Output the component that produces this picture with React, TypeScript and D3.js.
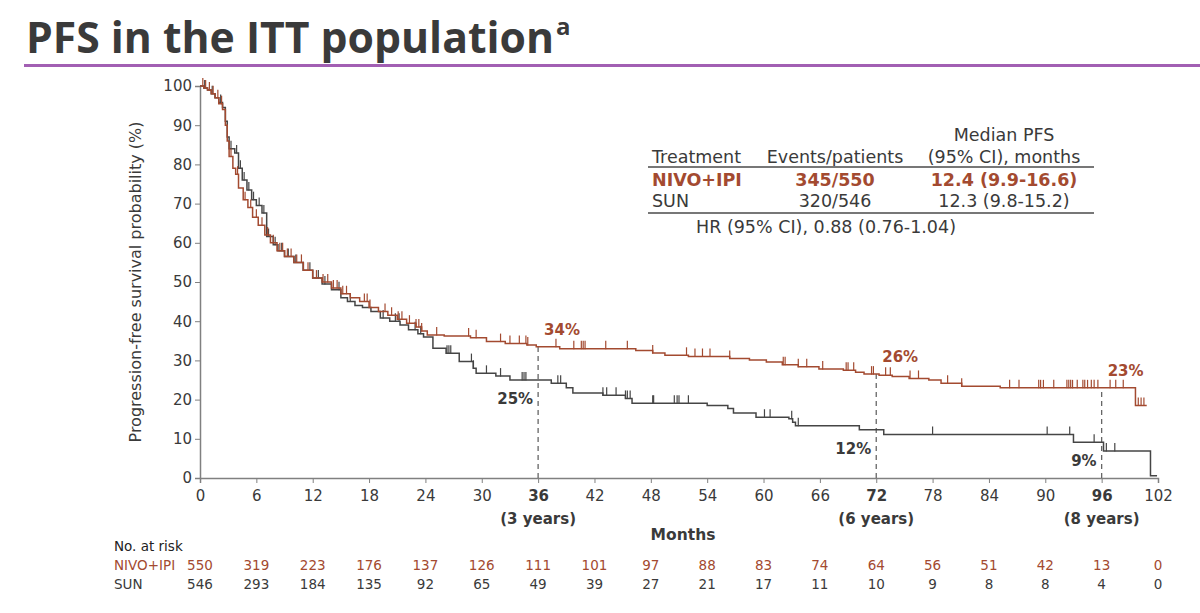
import { useEffect, useRef } from "react";
import * as d3 from "d3";

// Kaplan-Meier steps: [month, % progression-free]
const nivoSteps: [number, number][] = [
  [0, 100], [0.4, 99.5], [0.8, 99], [1.2, 98], [1.6, 97], [2.0, 95.5], [2.4, 94],
  [2.7, 90], [2.9, 86], [3.1, 82], [3.5, 79], [3.8, 77.5], [4.1, 74], [4.6, 71],
  [5.1, 69], [5.6, 66.5], [6.2, 64.5], [6.9, 62], [7.5, 60], [8.2, 58], [9, 56.5],
  [10, 55], [11, 53], [12, 51], [13, 50], [14, 48.5], [15, 47], [16, 46], [17, 45],
  [18, 43.5], [19, 42.5], [20, 41.5], [21, 40.5], [22, 39.5], [23, 38.5], [23.6, 37.5],
  [24.2, 36.5], [26, 36.2], [28.8, 35.8], [30.5, 34.8], [32.5, 34.3], [34.8, 33.9],
  [35.8, 33.5], [38.3, 33], [46.4, 32.5], [48.2, 31.9], [49.5, 31.3], [52, 31],
  [56.4, 30.5], [58.5, 30.1], [60.3, 29.6], [62, 28.9], [63.7, 28.4], [65.9, 27.8],
  [68.5, 27.5], [69.8, 27], [70.7, 26.5], [72.3, 26.2], [73.7, 25.9], [75.5, 25.4],
  [77.6, 25], [78.9, 24.2], [81.1, 23.4], [85.2, 23], [99.6, 18.5], [100.8, 18.5],
];

const sunSteps: [number, number][] = [
  [0, 100], [0.4, 99.5], [0.8, 99], [1.2, 98], [1.6, 97], [2.0, 95.8], [2.4, 94.5],
  [2.7, 91], [2.9, 87], [3.1, 84], [3.7, 82.9], [4.1, 79], [4.5, 76], [5.0, 73.5],
  [5.5, 71], [6.0, 69.5], [6.6, 67.6], [7.1, 61.6], [7.8, 59.5], [8.3, 58], [9, 56.5],
  [10, 55], [11, 53], [12, 51], [13, 49.5], [14, 48], [15, 46], [15.7, 45], [16.5, 44],
  [17.3, 43.5], [18.2, 42.5], [19.2, 40.8], [20.2, 40], [21.3, 39], [22.2, 37.8],
  [23.2, 36.8], [23.8, 36], [24.8, 33.1], [26.2, 31.8], [27.6, 29.7], [29.1, 28],
  [29.4, 26.7], [31.5, 26], [33, 25], [37.4, 24.2], [39.0, 23], [39.7, 21.7],
  [42.9, 21.1], [45.3, 20.3], [46, 19.1], [54, 18.5], [56.2, 17.7], [56.8, 16.6],
  [59.2, 15.5], [62.7, 15.1], [63.1, 14.2], [63.4, 13.3], [70.2, 12.3], [72.8, 11.1],
  [93, 9.1], [96.2, 6.9], [101.2, 0.6], [101.9, 0.6],
];

// censor marks (months)
const nivoCensor = [
  0.3, 0.6, 1.0, 1.4, 1.9, 2.3, 3.3, 4.0, 4.8, 5.4, 6.0, 6.6, 7.2, 7.8, 8.5, 8.8, 9.3,
  9.7, 10.3, 10.8, 11.5, 12.4, 13.1, 13.6, 14.2, 14.6, 15.2, 15.6, 17.5, 17.8, 18.1,
  19.7, 20.4, 21.1, 21.5, 22.3, 23.0, 23.3, 23.6, 25.2, 28.6, 29.4, 32.0, 33.0, 34.0,
  34.7, 34.9, 37.9, 39.8, 40.6, 40.8, 41.0, 43.2, 45.5, 48.2, 51.8, 52.7, 53.5, 54.3,
  56.4, 62.1, 62.3, 63.7, 64.6, 66.3, 68.8, 69.0, 69.6, 71.5, 71.7, 73.0, 73.5, 75.6,
  76.5, 79.6, 81.1, 86.2, 87.2, 89.3, 89.5, 89.8, 90.9, 92.3, 92.5, 92.7, 92.9, 93.4,
  94.0, 94.2, 94.5, 94.9, 95.2, 95.6, 96.9, 97.5, 98.3, 99.9, 100.2, 100.5,
];
const sunCensor = [
  0.5, 1.3, 2.2, 3.3, 3.9, 4.3, 4.7, 5.2, 5.7, 6.3, 6.8, 7.3, 8.0, 8.7, 9.4, 10.2,
  11.0, 11.7, 12.6, 13.3, 14.8, 16.0, 19.5, 20.8, 21.2, 22.9, 23.5, 26.3, 26.5, 26.7,
  28.9, 29.1, 30.5, 32.0, 34.3, 34.5, 34.7, 38.1, 38.4, 42.9, 43.3, 44.3, 45.3, 45.5,
  45.8, 48.2, 48.3, 50.5, 50.8, 51.0, 52.0, 60.1, 60.7, 63.0, 63.7, 78.0, 90.2, 92.6,
  95.2, 96.5, 97.4,
];

const landmarks = [
  { month: 36, nivo: "34%", sun: "25%", years: "(3 years)" },
  { month: 72, nivo: "26%", sun: "12%", years: "(6 years)" },
  { month: 96, nivo: "23%", sun: "9%", years: "(8 years)" },
];

const riskMonths = [0, 6, 12, 18, 24, 30, 36, 42, 48, 54, 60, 66, 72, 78, 84, 90, 96, 102];
const nivoRisk = [550, 319, 223, 176, 137, 126, 111, 101, 97, 88, 83, 74, 64, 56, 51, 42, 13, 0];
const sunRisk = [546, 293, 184, 135, 92, 65, 49, 39, 27, 21, 17, 11, 10, 9, 8, 8, 4, 0];

const RED = "#a34a30";
const GREY = "#454545";
const TEXT = "#3a3a3a";
const FONT = "'DejaVu Sans', sans-serif";

function valueAt(steps: [number, number][], m: number) {
  let v = steps[0][1];
  for (const [t, p] of steps) {
    if (t <= m) v = p;
    else break;
  }
  return v;
}

export default function App() {
  const svgRef = useRef<SVGSVGElement>(null);

  useEffect(() => {
    if (!svgRef.current) return;
    const svg = d3.select(svgRef.current);
    svg.selectAll("*").remove();

    const W = 1200;
    const H = 613;
    svg.attr("width", W).attr("height", H);

    // title
    svg
      .append("text")
      .attr("x", 26)
      .attr("y", 53)
      .attr("font-family", "'Open Sans', sans-serif")
      .attr("font-weight", 700)
      .attr("font-size", 43)
      .attr("fill", TEXT)
      .attr("textLength", 528)
      .attr("lengthAdjust", "spacingAndGlyphs")
      .text("PFS in the ITT population");
    svg
      .append("text")
      .attr("x", 556)
      .attr("y", 35)
      .attr("font-family", "'Open Sans', sans-serif")
      .attr("font-weight", 700)
      .attr("font-size", 24)
      .attr("fill", TEXT)
      .text("a");
    svg
      .append("line")
      .attr("x1", 24)
      .attr("x2", W)
      .attr("y1", 65.5)
      .attr("y2", 65.5)
      .attr("stroke", "#a25fb3")
      .attr("stroke-width", 3);

    const x = d3.scaleLinear().domain([0, 102]).range([200, 1158]);
    const y = d3.scaleLinear().domain([0, 100]).range([478, 86]);

    // y axis
    const yAxis = svg
      .append("g")
      .attr("transform", "translate(200,0)")
      .call(d3.axisLeft(y).tickValues(d3.range(0, 101, 10)).tickSize(5).tickPadding(3));
    yAxis.select(".domain").attr("stroke", "#808080").attr("stroke-width", 1.5);
    yAxis.selectAll(".tick line").attr("stroke", "#808080");
    yAxis
      .selectAll("text")
      .attr("font-family", FONT)
      .attr("font-size", 15)
      .attr("fill", TEXT);

    // x axis
    const xAxis = svg
      .append("g")
      .attr("transform", "translate(0,478)")
      .call(d3.axisBottom(x).tickValues(riskMonths).tickSize(5).tickPadding(7));
    xAxis.select(".domain").attr("stroke", "#808080").attr("stroke-width", 1.5);
    xAxis.selectAll(".tick line").attr("stroke", "#808080");
    xAxis
      .selectAll<SVGTextElement, number>("text")
      .attr("font-family", FONT)
      .attr("font-size", 15)
      .attr("fill", TEXT)
      .attr("font-weight", (d) => (landmarks.some((l) => l.month === d) ? 700 : 400));

    // axis titles
    svg
      .append("text")
      .attr("transform", `translate(141,${y(50)}) rotate(-90)`)
      .attr("text-anchor", "middle")
      .attr("font-family", FONT)
      .attr("font-size", 16)
      .attr("fill", TEXT)
      .text("Progression-free survival probability (%)");
    svg
      .append("text")
      .attr("x", 683)
      .attr("y", 540)
      .attr("text-anchor", "middle")
      .attr("font-family", FONT)
      .attr("font-weight", 700)
      .attr("font-size", 15.5)
      .attr("fill", TEXT)
      .text("Months");

    // landmark dashed lines and labels
    landmarks.forEach((l) => {
      svg
        .append("line")
        .attr("x1", x(l.month))
        .attr("x2", x(l.month))
        .attr("y1", y(0))
        .attr("y2", y(valueAt(nivoSteps, l.month)))
        .attr("stroke", "#666")
        .attr("stroke-width", 1.3)
        .attr("stroke-dasharray", "5,4");
      svg
        .append("text")
        .attr("x", x(l.month))
        .attr("y", 524)
        .attr("text-anchor", "middle")
        .attr("font-family", FONT)
        .attr("font-weight", 700)
        .attr("font-size", 15)
        .attr("fill", TEXT)
        .text(l.years);
      svg
        .append("text")
        .attr("x", x(l.month) + 6)
        .attr("y", y(valueAt(nivoSteps, l.month)) - 12)
        .attr("font-family", FONT)
        .attr("font-weight", 700)
        .attr("font-size", 15)
        .attr("fill", RED)
        .text(l.nivo);
      svg
        .append("text")
        .attr("x", x(l.month) - 5)
        .attr("y", y(valueAt(sunSteps, l.month)) + 24)
        .attr("text-anchor", "end")
        .attr("font-family", FONT)
        .attr("font-weight", 700)
        .attr("font-size", 15)
        .attr("fill", TEXT)
        .text(l.sun);
    });

    // KM curves
    const line = d3
      .line<[number, number]>()
      .x((d) => x(d[0]))
      .y((d) => y(d[1]))
      .curve(d3.curveStepAfter);

    const series = [
      { steps: sunSteps, censor: sunCensor, color: GREY },
      { steps: nivoSteps, censor: nivoCensor, color: RED },
    ];
    series.forEach((s) => {
      svg
        .append("path")
        .datum(s.steps)
        .attr("fill", "none")
        .attr("stroke", s.color)
        .attr("stroke-width", 1.5)
        .attr("d", line);
      svg
        .append("g")
        .selectAll("line")
        .data(s.censor)
        .enter()
        .append("line")
        .attr("x1", (d) => x(d))
        .attr("x2", (d) => x(d))
        .attr("y1", (d) => y(valueAt(s.steps, d)) + 0.5)
        .attr("y2", (d) => y(valueAt(s.steps, d)) - 8)
        .attr("stroke", s.color)
        .attr("stroke-width", 1.2);
    });

    // summary table
    const tbl = svg.append("g").attr("font-family", FONT).attr("font-size", 17.5).attr("fill", TEXT);
    const colX = [652, 835, 1004];
    tbl.append("text").attr("x", colX[2]).attr("y", 141).attr("text-anchor", "middle").text("Median PFS");
    tbl.append("text").attr("x", colX[0]).attr("y", 163).text("Treatment");
    tbl.append("text").attr("x", colX[1]).attr("y", 163).attr("text-anchor", "middle").text("Events/patients");
    tbl.append("text").attr("x", colX[2]).attr("y", 163).attr("text-anchor", "middle").text("(95% CI), months");
    tbl.append("line").attr("x1", 648).attr("x2", 1094).attr("y1", 167).attr("y2", 167).attr("stroke", "#777").attr("stroke-width", 2);
    const rows = [
      { name: "NIVO+IPI", ev: "345/550", med: "12.4 (9.9-16.6)", color: RED, bold: 700, yy: 186 },
      { name: "SUN", ev: "320/546", med: "12.3 (9.8-15.2)", color: TEXT, bold: 400, yy: 207 },
    ];
    rows.forEach((r) => {
      tbl.append("text").attr("x", colX[0]).attr("y", r.yy).attr("fill", r.color).attr("font-weight", r.bold).text(r.name);
      tbl.append("text").attr("x", colX[1]).attr("y", r.yy).attr("text-anchor", "middle").attr("fill", r.color).attr("font-weight", r.bold).text(r.ev);
      tbl.append("text").attr("x", colX[2]).attr("y", r.yy).attr("text-anchor", "middle").attr("fill", r.color).attr("font-weight", r.bold).text(r.med);
    });
    tbl.append("line").attr("x1", 648).attr("x2", 1094).attr("y1", 213).attr("y2", 213).attr("stroke", "#777").attr("stroke-width", 2);
    tbl.append("text").attr("x", 826).attr("y", 233).attr("text-anchor", "middle").text("HR (95% CI), 0.88 (0.76-1.04)");

    // number at risk
    const risk = svg.append("g").attr("font-family", FONT).attr("font-size", 13.5);
    risk.append("text").attr("x", 114).attr("y", 551).attr("fill", "#222").text("No. at risk");
    risk.append("text").attr("x", 114).attr("y", 570).attr("fill", RED).text("NIVO+IPI");
    risk.append("text").attr("x", 114).attr("y", 589).attr("fill", TEXT).text("SUN");
    risk
      .selectAll(".rn")
      .data(nivoRisk)
      .enter()
      .append("text")
      .attr("x", (_, i) => x(riskMonths[i]))
      .attr("y", 570)
      .attr("text-anchor", "middle")
      .attr("fill", RED)
      .text((d) => d);
    risk
      .selectAll(".rs")
      .data(sunRisk)
      .enter()
      .append("text")
      .attr("x", (_, i) => x(riskMonths[i]))
      .attr("y", 589)
      .attr("text-anchor", "middle")
      .attr("fill", TEXT)
      .text((d) => d);
  }, []);

  return (
    <div style={{ position: "absolute", left: 0, top: 0, width: 1200, height: 613, background: "#fff" }}>
      <svg ref={svgRef} />
    </div>
  );
}
